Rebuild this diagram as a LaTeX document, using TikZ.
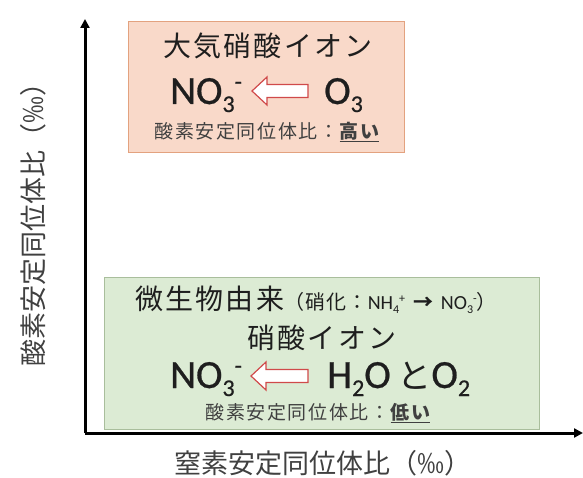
\documentclass[tikz,border=0pt]{standalone}
\usepackage{fontspec}
\setmainfont{Carlito}
\newfontfamily\jp{Noto Sans CJK JP}
\usetikzlibrary{arrows.meta}
\definecolor{peachfill}{HTML}{F9D9C9}
\definecolor{peachline}{HTML}{E3A27F}
\definecolor{greenfill}{HTML}{DCEBD4}
\definecolor{greenline}{HTML}{A9BE9C}
\definecolor{arrowred}{HTML}{D04A4A}
\definecolor{txt}{HTML}{1E1E1E}
\definecolor{subtxt}{HTML}{404040}
\newcommand{\mysub}[1]{\raisebox{-0.2em}{\fontsize{24}{24}\selectfont #1}}
\newcommand{\mysup}[1]{\raisebox{0.36em}{\fontsize{24}{24}\selectfont #1}}
\newcommand{\smsub}[1]{\raisebox{-0.22em}{\fontsize{12}{12}\selectfont #1}}
\newcommand{\smsup}[1]{\raisebox{0.35em}{\fontsize{12}{12}\selectfont #1}}
\tikzset{
  axisline/.style={line width=3pt, -{Triangle[length=9pt,width=9pt]}},
  topbox/.style={draw=peachline, fill=peachfill, line width=0.8pt, inner sep=0pt},
  botbox/.style={draw=greenline, fill=greenfill, line width=0.8pt, inner sep=0pt},
  hollowarrow/.style={draw=arrowred, fill=white, line width=1.2pt, line join=miter},
  title/.style={font=\jp\fontsize{28}{28}\selectfont\addfontfeature{LetterSpace=8}, text=txt, inner sep=0pt},
  formula/.style={font=\fontsize{40}{40}\selectfont\addfontfeature{FakeBold=0.6}, text=txt, inner sep=0pt},
  subline/.style={font=\jp\fontsize{19}{19}\selectfont\addfontfeature{LetterSpace=8}, text=subtxt, inner sep=0pt},
  axislabel/.style={font=\jp\fontsize{27}{27}\selectfont, text=subtxt, inner sep=0pt}
}
\begin{document}
\begin{tikzpicture}[x=1pt,y=-1pt]
\useasboundingbox (0,0) rectangle (583,478);
% axes
\coordinate (O) at (85,433);
\coordinate (ytip) at (85,19);
\coordinate (xtip) at (583,433);
\draw[axisline] (O) -- (ytip);
\draw[axisline] (O) -- (xtip);
% top box
\node[topbox, minimum width=276pt, minimum height=131pt, anchor=north west] (tb) at (128,21) {};
\node[title] (t1) at (268,46) {大気硝酸イオン};
\node[formula, anchor=base west] (tno) at (170,104) {NO\mysub{3}\mysup{-}};
\filldraw[hollowarrow] (252,91) -- (267,77) -- (267,84.5) -- (308,84.5) -- (308,97.5) -- (267,97.5) -- (267,105) -- cycle;
\node[formula, anchor=base west] (to3) at (324,104) {O\mysub{3}};
\node[subline] (t3) at (267,132) {酸素安定同位体比：\textbf{\underline{高い}}};
% bottom box
\node[botbox, minimum width=435pt, minimum height=152pt, anchor=north west] (bb) at (104,277) {};
\node[anchor=base west, inner sep=0pt, text=txt] (b1) at (135,309)
  {{\jp\fontsize{28}{28}\selectfont\addfontfeature{LetterSpace=8}微生物由来}{\jp\fontsize{20}{20}\selectfont\addfontfeature{LetterSpace=6}（硝化：}{\fontsize{20}{20}\selectfont NH\smsub{4}\smsup{+}\ \,{\jp\bfseries →}\ \,NO\smsub{3}\smsup{-}}{\jp\fontsize{20}{20}\selectfont ）}};
\node[title, anchor=base] (b2) at (322,348) {硝酸イオン};
\node[formula, anchor=base west] (bno) at (170,388) {NO\mysub{3}\mysup{-}};
\filldraw[hollowarrow] (251,376) -- (266,362) -- (266,369.5) -- (308,369.5) -- (308,382.5) -- (266,382.5) -- (266,390) -- cycle;
\node[formula, anchor=base west] (bh) at (327,388) {H\mysub{2}O\,{\jp\fontsize{34}{34}\selectfont と}O\mysub{2}};
\node[subline] (b4) at (318,413) {酸素安定同位体比：\textbf{\underline{低い}}};
% axis labels
\node[axislabel] (xl) at (323,463) {窒素安定同位体比（‰）};
\node[axislabel, rotate=90] (yl) at (33,218) {酸素安定同位体比（‰）};
\end{tikzpicture}
\end{document}
